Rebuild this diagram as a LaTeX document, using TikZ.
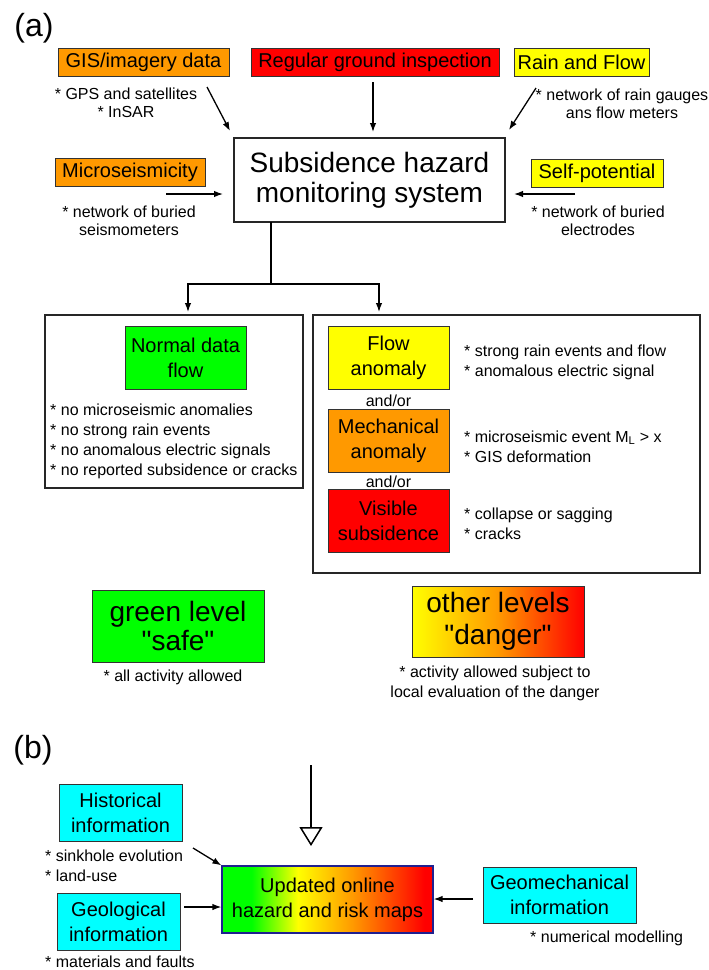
\documentclass[tikz,border=0pt]{standalone}
\usepackage{fontspec}
\setmainfont{Liberation Sans}[Ligatures=TeXOff]
\usetikzlibrary{arrows.meta}
\definecolor{cOrange}{HTML}{FF9900}
\definecolor{cRed}{HTML}{FF0000}
\definecolor{cYellow}{HTML}{FFFF00}
\definecolor{cGreen}{HTML}{00FF00}
\definecolor{cCyan}{HTML}{00FFFF}
\definecolor{cNavy}{HTML}{202090}
\definecolor{cEdge}{HTML}{333333}
\pgfdeclarehorizontalshading{updshade}{100bp}{color(0bp)=(cGreen); color(25bp)=(cGreen); color(32bp)=(cGreen); color(43bp)=(cYellow); color(56bp)=(cOrange); color(73bp)=(cRed); color(75bp)=(cRed); color(100bp)=(cRed)}
\begin{document}
\begin{tikzpicture}[x=1pt,y=-1pt,
  colbox/.style={draw=cEdge, line width=1pt, inner sep=0pt, align=center, font=\fontsize{20}{25}\selectfont},
  bigbox/.style={draw=black!85, line width=1.4pt, inner sep=0pt},
  small/.style={inner sep=0pt, font=\fontsize{16}{18.5}\selectfont},
  bullets/.style={inner sep=0pt, align=left, font=\fontsize{16}{20}\selectfont},
  panel/.style={inner sep=0pt, font=\fontsize{32}{36}\selectfont},
  arr/.style={-{Latex[length=9pt,width=6.5pt]}, line width=1.3pt},
  plain/.style={line width=1.3pt}]
\useasboundingbox (0,0) rectangle (709,970);

% panel labels
\node[panel] (pa) at (34,28) {(a)};
\node[panel] (pb) at (33,750) {(b)};

% top sources
\node[colbox, fill=cOrange, minimum width=171pt, minimum height=28pt] (gis) at (143.5,62) {GIS/imagery data};
\node[colbox, fill=cRed, minimum width=248pt, minimum height=28pt] (reg) at (375,62) {Regular ground inspection};
\node[colbox, fill=cYellow, minimum width=135pt, minimum height=28pt] (rain) at (581.5,62) {Rain and Flow};
\node[colbox, fill=cOrange, minimum width=150pt, minimum height=28pt] (micro) at (130,172) {Microseismicity};
\node[colbox, fill=cYellow, minimum width=132pt, minimum height=28pt] (self) at (597,173) {Self-potential};

\node[small, align=center] (gistxt) at (126,103) {* GPS and satellites\\* InSAR};
\node[small, align=center] (raintxt) at (622,104) {* network of rain gauges\\ans flow meters};
\node[small, align=center] (microtxt) at (129,221) {* network of buried\\seismometers};
\node[small, align=center] (selftxt) at (598,221) {* network of buried\\electrodes};

% main box
\node[draw=black!85, line width=1.4pt, minimum width=271pt, minimum height=84pt, inner sep=0pt, align=center, font=\fontsize{28}{30}\selectfont] (main) at (369.5,180) {Subsidence hazard\\monitoring system};

\coordinate (gisA) at (207,87);
\coordinate (gisB) at (230,131);
\coordinate (regA) at (373,82);
\coordinate (regB) at (373,132);
\coordinate (rainA) at (536,88);
\coordinate (rainB) at (509,130);
\coordinate (microA) at (166,194);
\coordinate (microB) at (223,194);
\coordinate (selfA) at (575,194);
\coordinate (selfB) at (514,194);
\draw[arr] (gisA) -- (gisB);
\draw[arr] (regA) -- (regB);
\draw[arr] (rainA) -- (rainB);
\draw[arr] (microA) -- (microB);
\draw[arr] (selfA) -- (selfB);

% tree
\coordinate (t0) at (271,222);
\coordinate (tj) at (271,284);
\coordinate (tl) at (188,312);
\coordinate (tr) at (379,312);
\draw[plain] (t0) -- (tj);
\draw[arr] (tj) -| (tl);
\draw[arr] (tj) -| (tr);

% big boxes
\node[bigbox, minimum width=258pt, minimum height=173pt] (leftbox) at (174,401.5) {};
\node[bigbox, minimum width=387pt, minimum height=258pt] (rightbox) at (506.5,444) {};

\node[colbox, fill=cGreen, minimum width=121pt, minimum height=63pt] (normal) at (185.5,357.5) {Normal data\\flow};
\node[bullets, anchor=west] (normtxt) at (50,441) {* no microseismic anomalies\\* no strong rain events\\* no anomalous electric signals\\* no reported subsidence or cracks};

\node[colbox, fill=cYellow, minimum width=121pt, minimum height=63pt] (flow) at (388.5,357.5) {Flow\\anomaly};
\node[small] (ao1) at (388.5,401) {and/or};
\node[colbox, fill=cOrange, minimum width=121pt, minimum height=63pt] (mech) at (388.5,440.5) {Mechanical\\anomaly};
\node[small] (ao2) at (388.5,482) {and/or};
\node[colbox, fill=cRed, minimum width=121pt, minimum height=63pt] (vis) at (388.5,520.5) {Visible\\subsidence};

\node[bullets, anchor=west] (flowtxt) at (464,362) {* strong rain events and flow\\* anomalous electric signal};
\node[bullets, anchor=west] (mechtxt) at (464,446.5) {* microseismic event M\textsubscript{L} > x\\* GIS deformation};
\node[bullets, anchor=west] (vistxt) at (464,523.5) {* collapse or sagging\\* cracks};

% levels
\node[draw=cEdge, line width=1pt, fill=cGreen, minimum width=172pt, minimum height=72pt, inner sep=0pt, align=center, font=\fontsize{28}{29}\selectfont] (green) at (178,626) {green level\\"safe"};
\node[draw=cEdge, line width=1pt, left color=cYellow, right color=cRed, middle color=cOrange, minimum width=172pt, minimum height=71pt, inner sep=0pt, align=center, font=\fontsize{28}{32}\selectfont] (other) at (498,621.5) {other levels\\"danger"};
\node[small] (greentxt) at (173,677) {* all activity allowed};
\node[small, align=center, font=\fontsize{16}{20}\selectfont] (othertxt) at (495,683) {* activity allowed subject to\\local evaluation of the danger};

% panel b
\coordinate (bA) at (311,765);
\coordinate (bB) at (311,846);
\draw[-{Triangle[open,length=19pt,width=23pt]}, line width=1.5pt] (bA) -- (bB);

\node[colbox, fill=cCyan, minimum width=123pt, minimum height=57pt] (hist) at (120.5,812.5) {Historical\\information};
\node[colbox, fill=cCyan, minimum width=123pt, minimum height=57pt] (geol) at (118.5,921.5) {Geological\\information};
\node[colbox, fill=cCyan, minimum width=153pt, minimum height=56pt] (geom) at (559.5,895) {Geomechanical\\information};
\node[draw=cNavy, line width=1.2pt, shading=updshade, minimum width=211pt, minimum height=67pt, inner sep=0pt, align=center, font=\fontsize{20}{25}\selectfont] (upd) at (327.5,899.5) {Updated online\\hazard and risk maps};

\node[bullets, anchor=west] (histtxt) at (45,866) {* sinkhole evolution\\* land-use};
\node[small, anchor=west] (geoltxt) at (45,962) {* materials and faults};
\node[small, anchor=west] (geomtxt) at (530,938) {* numerical modelling};

\coordinate (hA) at (193,848);
\coordinate (gA) at (184,907);
\coordinate (mA) at (473,899);
\draw[arr] (hA) -- (upd.north west);
\draw[arr] (gA) -- (gA -| upd.west);
\draw[arr] (mA) -- (mA -| upd.east);
\end{tikzpicture}
\end{document}
